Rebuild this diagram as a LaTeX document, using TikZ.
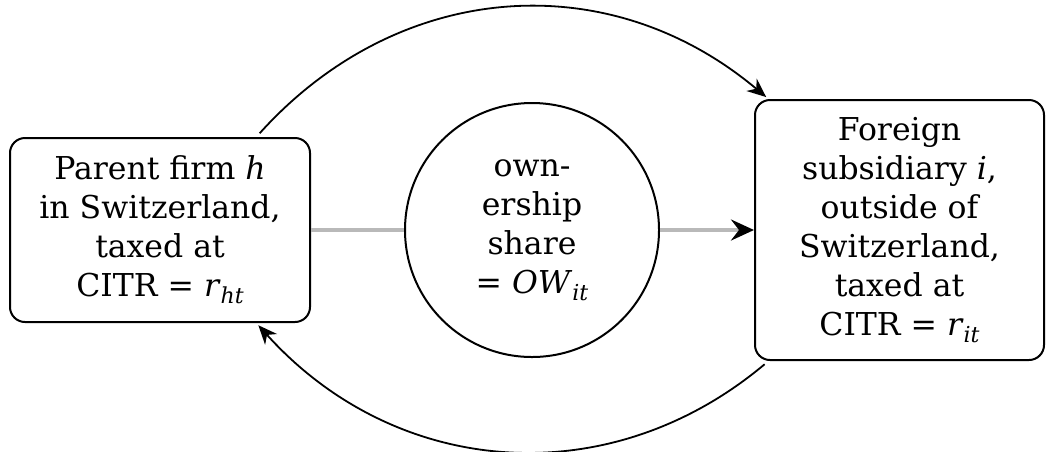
\documentclass[tikz,border=0pt]{standalone}
\usepackage{fontspec}
\setmainfont{DejaVu Serif}
\usetikzlibrary{arrows.meta}
\tikzset{
  boxnode/.style={draw, line width=2pt, rounded corners=15pt, align=center, inner sep=0pt},
  circnode/.style={draw, line width=2pt, circle, align=center, inner sep=0pt, minimum size=254pt},
  txt/.style={font=\fontsize{31.5}{39}\selectfont},
  link/.style={draw=gray!55, line width=3.5pt},
  flow/.style={line width=1.8pt, shorten <=5pt, shorten >=3pt, -{Stealth[length=19pt,width=16pt,inset=6pt]}},
}
\newcommand{\vi}[1]{\textit{#1}}
\newcommand{\subx}[1]{\raisebox{-0.22em}{\fontsize{22}{22}\selectfont\textit{#1}}}
\begin{document}
\begin{tikzpicture}[x=1pt,y=-1pt]
\useasboundingbox (0,0) rectangle (1046,451);
\node[boxnode, txt, minimum width=300pt, minimum height=184pt] (lbox) at (160,230)
  {Parent firm \vi{h}\\in Switzerland,\\taxed at\\CITR = \vi{r}\subx{ht}};
\node[circnode, txt] (circ) at (532,230) {own-\\ership\\share\\= \vi{OW}\subx{it}};
\node[boxnode, txt, minimum width=289pt, minimum height=260pt] (rbox) at (899.5,230)
  {Foreign\\subsidiary \vi{i},\\outside of\\Switzerland,\\taxed at\\CITR = \vi{r}\subx{it}};
\draw[link] (lbox.east) -- (circ.west);
\draw[link, -{Stealth[length=23pt,width=21pt,inset=8pt,color=black]}] (circ.east) -- (rbox.west);
\draw[flow] (lbox.44) to[out=48, in=140, looseness=1.05] (rbox.135);
\draw[flow] (rbox.225) to[out=220, in=-48, looseness=1.04] (lbox.316);
\end{tikzpicture}
\end{document}
